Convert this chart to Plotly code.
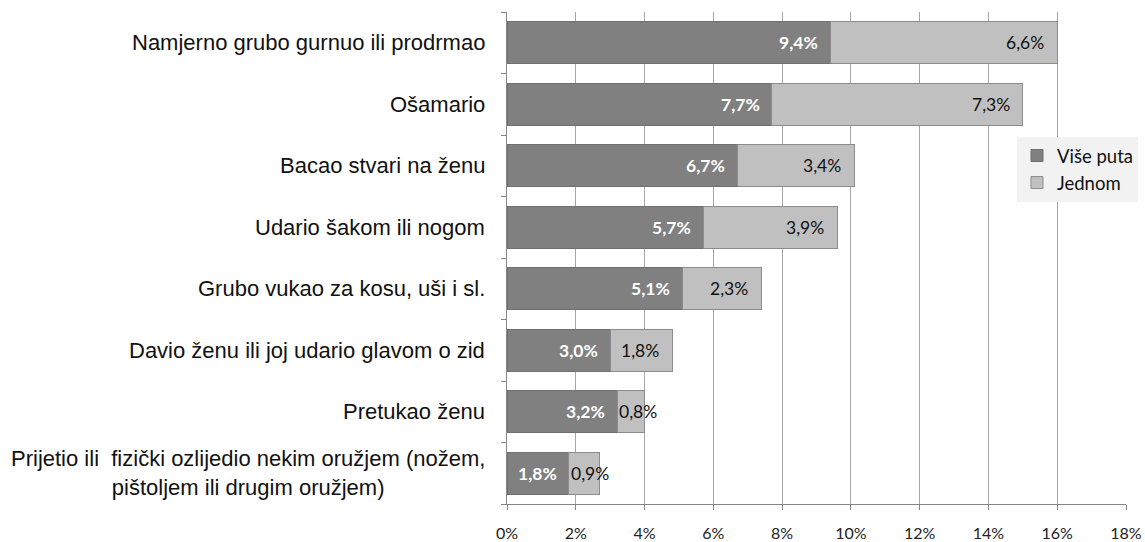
import plotly.graph_objects as go

categories = [
    "Namjerno grubo gurnuo ili prodrmao",
    "Ošamario",
    "Bacao stvari na ženu",
    "Udario šakom ili nogom",
    "Grubo vukao za kosu, uši i sl.",
    "Davio ženu ili joj udario glavom o zid",
    "Pretukao ženu",
    "Prijetio ili \u00a0fizički ozlijedio nekim oružjem (nožem,<br>pištoljem ili drugim oružjem)",
]
vise_puta = [9.4, 7.7, 6.7, 5.7, 5.1, 3.0, 3.2, 1.8]
jednom = [6.6, 7.3, 3.4, 3.9, 2.3, 1.8, 0.8, 0.9]
series_names = ["Više puta", "Jednom"]
x_ticks = [0, 2, 4, 6, 8, 10, 12, 14, 16, 18]
x_tick_labels = ["0%", "2%", "4%", "6%", "8%", "10%", "12%", "14%", "16%", "18%"]

DARK = "#808080"
LIGHT = "#c0c0c0"
AXIS = "#868686"
GRID = "#a6a6a6"

fig = go.Figure()
fig.add_trace(go.Bar(
    y=categories, x=vise_puta, orientation="h", name=series_names[0],
    marker=dict(color=DARK, line=dict(color="#6f6f6f", width=1)),
    hoverinfo="skip",
))
fig.add_trace(go.Bar(
    y=categories, x=jednom, orientation="h", name=series_names[1],
    marker=dict(color=LIGHT, line=dict(color="#8c8c8c", width=1)),
    hoverinfo="skip",
))

def fmt(v):
    return f"{v:.1f}".replace(".", ",") + "%"

annotations = []
# category labels (centred multi-line like the original)
for c in categories:
    annotations.append(dict(
        x=0, xref="paper", y=c, yref="y", text=c, showarrow=False,
        xanchor="right", yanchor="middle", xshift=-20, align="center",
        font=dict(family="Liberation Sans, Arial", size=22, color="#111111"),
    ))
# data labels
for c, a, b in zip(categories, vise_puta, jednom):
    annotations.append(dict(
        x=a, y=c, xref="x", yref="y", text=fmt(a), showarrow=False,
        xanchor="right", yanchor="middle", xshift=-10,
        font=dict(family="Lato", size=17.5, color="white", weight="bold"),
    ))
    if b < 1.0:
        annotations.append(dict(
            x=a, y=c, xref="x", yref="y", text=fmt(b), showarrow=False,
            xanchor="left", yanchor="middle", xshift=0,
            font=dict(family="Lato", size=17.5, color="#111111"),
        ))
    else:
        annotations.append(dict(
            x=a + b, y=c, xref="x", yref="y", text=fmt(b), showarrow=False,
            xanchor="right", yanchor="middle", xshift=-11,
            font=dict(family="Lato", size=17.5, color="#111111"),
        ))

fig.update_layout(
    width=1145, height=542,
    margin=dict(l=507, r=19, t=12, b=38, autoexpand=False),
    paper_bgcolor="white", plot_bgcolor="white",
    barmode="stack", bargap=0.325,
    showlegend=True,
    legend=dict(
        xref="container", yref="container",
        x=1017 / 1145, y=1 - 137 / 542, xanchor="left", yanchor="top",
        bgcolor="#f2f2f2", borderwidth=0,
        font=dict(family="Lato", size=18.5, color="#111111"),
        traceorder="normal", tracegroupgap=0, itemwidth=30,
    ),
    xaxis=dict(
        range=[0, 18], tickvals=x_ticks, ticktext=x_tick_labels,
        showgrid=True, gridcolor=GRID, gridwidth=1,
        showline=True, linecolor=AXIS, linewidth=1,
        ticks="outside", ticklen=5, tickcolor=AXIS,
        ticklabelstandoff=10, zeroline=False, automargin=False,
        tickfont=dict(family="Lato", size=16, color="#222222"),
        fixedrange=True,
    ),
    yaxis=dict(
        type="category", categoryorder="array",
        categoryarray=list(reversed(categories)),
        showticklabels=False, showgrid=False,
        showline=True, linecolor=AXIS, linewidth=1,
        ticks="outside", ticklen=5, tickcolor=AXIS, tickson="boundaries",
        zeroline=False, automargin=False, fixedrange=True,
    ),
    annotations=annotations,
)

fig.write_html(
    "out.html",
    config={"displayModeBar": False},
    post_script="document.body.style.margin='0';document.body.style.overflow='hidden';",
)
